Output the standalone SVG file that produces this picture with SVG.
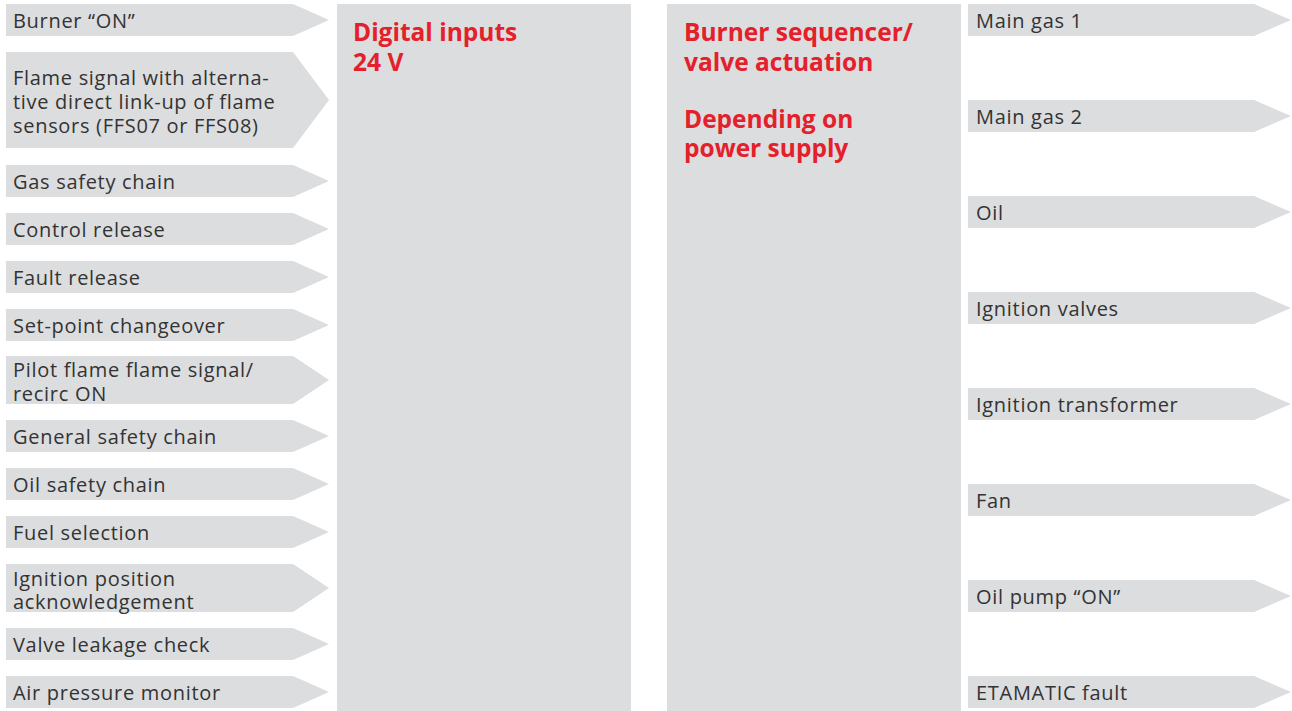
<svg xmlns="http://www.w3.org/2000/svg" width="1292" height="711" viewBox="0 0 1292 711">
<style>
.bx{fill:#dcdddf}
.lb{font-family:"Open Sans",sans-serif;font-size:20px;letter-spacing:0.7px;fill:#333333}
.hd{font-family:"Open Sans",sans-serif;font-size:24.5px;font-weight:bold;fill:#e4202a}
</style>
<rect width="1292" height="711" fill="#ffffff"/>
<g id="digital-inputs">
<rect class="bx" x="337" y="4" width="294" height="707"/>
<text class="hd" x="353" y="41">Digital inputs</text>
<text class="hd" x="353" y="71">24 V</text>
</g>
<g id="burner-sequencer">
<rect class="bx" x="667" y="4" width="294" height="707"/>
<text class="hd" x="684" y="41">Burner sequencer/</text>
<text class="hd" x="684" y="70.5">valve actuation</text>
<text class="hd" x="684" y="128">Depending on</text>
<text class="hd" x="684" y="157">power supply</text>
</g>
<g id="in-burner-on"><path class="bx" d="M6 4H293L329 20L293 36H6Z"/><text class="lb" x="13" y="28">Burner “ON”</text></g>
<g id="in-flame-signal"><path class="bx" d="M6 52H293L329 100L293 148H6Z"/><text class="lb" x="13" y="85">Flame signal with alterna-</text><text class="lb" x="13" y="109">tive direct link-up of flame</text><text class="lb" x="13" y="133">sensors (FFS07 or FFS08)</text></g>
<g id="in-gas-safety"><path class="bx" d="M6 165H293L329 181L293 197H6Z"/><text class="lb" x="13" y="189">Gas safety chain</text></g>
<g id="in-control-release"><path class="bx" d="M6 213H293L329 229L293 245H6Z"/><text class="lb" x="13" y="237">Control release</text></g>
<g id="in-fault-release"><path class="bx" d="M6 261H293L329 277L293 293H6Z"/><text class="lb" x="13" y="285">Fault release</text></g>
<g id="in-setpoint"><path class="bx" d="M6 309H293L329 325L293 341H6Z"/><text class="lb" x="13" y="333">Set-point changeover</text></g>
<g id="in-pilot-flame"><path class="bx" d="M6 356H293L329 380L293 404H6Z"/><text class="lb" x="13" y="377">Pilot flame flame signal/</text><text class="lb" x="13" y="401">recirc ON</text></g>
<g id="in-general-safety"><path class="bx" d="M6 420H293L329 436L293 452H6Z"/><text class="lb" x="13" y="444">General safety chain</text></g>
<g id="in-oil-safety"><path class="bx" d="M6 468H293L329 484L293 500H6Z"/><text class="lb" x="13" y="492">Oil safety chain</text></g>
<g id="in-fuel-selection"><path class="bx" d="M6 516H293L329 532L293 548H6Z"/><text class="lb" x="13" y="540">Fuel selection</text></g>
<g id="in-ignition-position"><path class="bx" d="M6 564H293L329 588L293 612H6Z"/><text class="lb" x="13" y="586">Ignition position</text><text class="lb" x="13" y="609">acknowledgement</text></g>
<g id="in-valve-leakage"><path class="bx" d="M6 628H293L329 644L293 660H6Z"/><text class="lb" x="13" y="652">Valve leakage check</text></g>
<g id="in-air-pressure"><path class="bx" d="M6 676H293L329 692L293 708H6Z"/><text class="lb" x="13" y="700">Air pressure monitor</text></g>
<g id="out-main-gas-1"><path class="bx" d="M968 4H1254L1291 20L1254 36H968Z"/><text class="lb" x="976" y="28">Main gas 1</text></g>
<g id="out-main-gas-2"><path class="bx" d="M968 100H1254L1291 116L1254 132H968Z"/><text class="lb" x="976" y="124">Main gas 2</text></g>
<g id="out-oil"><path class="bx" d="M968 196H1254L1291 212L1254 228H968Z"/><text class="lb" x="976" y="220">Oil</text></g>
<g id="out-ignition-valves"><path class="bx" d="M968 292H1254L1291 308L1254 324H968Z"/><text class="lb" x="976" y="316">Ignition valves</text></g>
<g id="out-ignition-transformer"><path class="bx" d="M968 388H1254L1291 404L1254 420H968Z"/><text class="lb" x="976" y="412">Ignition transformer</text></g>
<g id="out-fan"><path class="bx" d="M968 484H1254L1291 500L1254 516H968Z"/><text class="lb" x="976" y="508">Fan</text></g>
<g id="out-oil-pump"><path class="bx" d="M968 580H1254L1291 596L1254 612H968Z"/><text class="lb" x="976" y="604">Oil pump “ON”</text></g>
<g id="out-etamatic-fault"><path class="bx" d="M968 676H1254L1291 692L1254 708H968Z"/><text class="lb" x="976" y="700">ETAMATIC fault</text></g>
<g id="connectors"></g>
</svg>
